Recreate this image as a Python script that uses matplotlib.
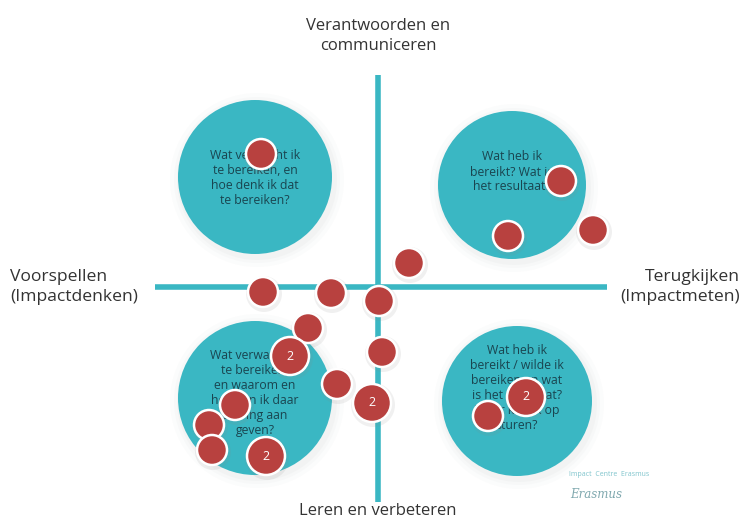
import numpy as np
import matplotlib.pyplot as plt
from matplotlib.patches import Circle

# ---------------------------------------------------------------------------
# DATA (canvas units, origin top-left, 744 x 520)
# ---------------------------------------------------------------------------

axis_labels = ["Verantwoorden en\ncommuniceren", "Voorspellen\n(Impactdenken)",
               "Terugkijken\n(Impactmeten)", "Leren en verbeteren"]

# quadrant bubbles: centre x, centre y, radius, question
bubble_x = [255, 512, 255, 517]
bubble_y = [177, 185, 398, 401]
bubble_r = [77, 74, 77, 75]
bubble_text = [
    "Wat verwacht ik\nte bereiken, en\nhoe denk ik dat\nte bereiken?",
    "Wat heb ik\nbereikt? Wat is\nhet resultaat?",
    "Wat verwacht ik\nte bereiken,\nen waarom en\nhoe kan ik daar\nsturing aan\ngeven?",
    "Wat heb ik\nbereikt / wilde ik\nbereiken en wat\nis het resultaat?\nWaar kan ik op\nsturen?",
]
bubble_text_y = [178, 172, 393, 388]

# votes (red dots): position and count
dot_x = [261, 561, 508, 593, 409, 263, 331, 379, 308, 290, 382, 337, 372, 235, 209, 212, 266, 526, 488]
dot_y = [154, 181, 236, 230, 263, 292, 293, 301, 328, 356, 352, 384, 403, 405, 425, 450, 456, 397, 416]
dot_n = [1, 1, 1, 1, 1, 1, 1, 1, 1, 2, 1, 1, 2, 1, 1, 1, 2, 2, 1]

TEAL = "#3ab7c3"
RED = "#b8413f"
TEXT = "#1a4550"

plt.rcParams["font.family"] = ["Open Sans", "DejaVu Sans"]

fig = plt.figure(figsize=(7.44, 5.20), dpi=100)
ax = fig.add_axes([0, 0, 1, 1])
ax.set_xlim(0, 744)
ax.set_ylim(520, 0)
ax.axis("off")

# soft shadows + bubbles
for x, y, r in zip(bubble_x, bubble_y, bubble_r):
    for k, a in [(10, 0.03), (6, 0.04), (3, 0.05)]:
        ax.add_patch(Circle((x + 2, y + 3), r + k, color="#9aa4a8", alpha=a, lw=0, zorder=1))
    ax.add_patch(Circle((x, y), r, color=TEAL, lw=0, zorder=2))

for x, y, t in zip(bubble_x, bubble_text_y, bubble_text):
    ax.text(x, y, t, ha="center", va="center", fontsize=8.8, color=TEXT,
            linespacing=1.2, zorder=3)

# cross axes
ax.plot([378, 378], [75, 502], color=TEAL, lw=4, solid_capstyle="butt", zorder=2.5)
ax.plot([155, 607], [287, 287], color=TEAL, lw=4, solid_capstyle="butt", zorder=2.5)

# labels
ax.text(378, 36, axis_labels[0], ha="center", va="center", fontsize=12, color="#333333", linespacing=1.4)
ax.text(10, 287, axis_labels[1], ha="left", va="center", fontsize=12.6, color="#333333", linespacing=1.4)
ax.text(740, 287, axis_labels[2], ha="right", va="center", fontsize=12.6, color="#333333", linespacing=1.4)
ax.text(378, 511, axis_labels[3], ha="center", va="center", fontsize=12, color="#333333")

# votes
for x, y, n in zip(dot_x, dot_y, dot_n):
    r = 19 if n > 1 else 15
    ax.add_patch(Circle((x + 1, y + 2), r + 3, color="#888888", alpha=0.12, lw=0, zorder=4))
    ax.add_patch(Circle((x, y), r, facecolor=RED, edgecolor="white", lw=1.8, zorder=5))
    if n > 1:
        ax.text(x, y, str(n), ha="center", va="center", fontsize=9, color="white", zorder=6)

# logo
ax.text(569, 474, "Impact  Centre  Erasmus", fontsize=5, color="#7fc4cc", ha="left", va="center")
ax.text(596, 494, "Erasmus", fontsize=8.5, color="#7fa8ae", style="italic", ha="center", va="center",
        family="DejaVu Serif")

fig.savefig("out.png", dpi=100)
